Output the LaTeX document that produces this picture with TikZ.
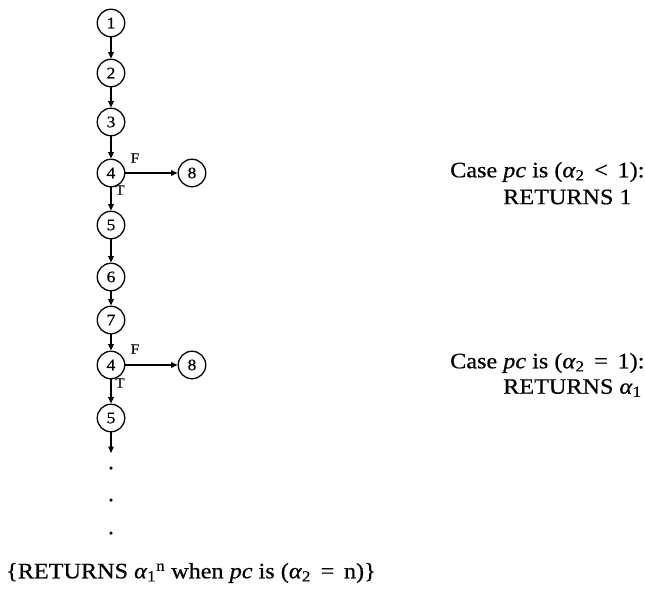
\documentclass[tikz,border=0pt]{standalone}
\usepackage{fontspec}
\setmainfont{Liberation Serif}[FakeStretch=1.1,FakeBold=0.6]
\usetikzlibrary{arrows.meta}
\newcommand{\al}[1]{\textit{α}\textsubscript{#1}}
\begin{document}
\begin{tikzpicture}[x=1pt,y=-1pt,
  st/.style={circle,draw,line width=1.3pt,minimum size=27.5pt,inner sep=0pt,font=\fontsize{16}{16}\selectfont},
  flow/.style={line width=1.3pt,-{Triangle[length=6.5pt,width=5.5pt]}},
  lab/.style={font=\fontsize{14}{14}\selectfont,inner sep=0pt},
  txt/.style={font=\fontsize{22}{26}\selectfont,inner sep=0pt,anchor=west},
  dotn/.style={circle,fill,inner sep=0pt,minimum size=3.5pt}]
\useasboundingbox (0,0) rectangle (645,589);
\node[st] (n1) at (111,23) {1};
\node[st] (n2) at (111,73) {2};
\node[st] (n3) at (111,122) {3};
\node[st] (n4) at (111,173) {4};
\node[st] (n8) at (192,173) {8};
\node[st] (n5) at (111,225) {5};
\node[st] (n6) at (111,277) {6};
\node[st] (n7) at (111,320) {7};
\node[st] (m4) at (111,365) {4};
\node[st] (m8) at (192,365) {8};
\node[st] (m5) at (111,418) {5};
\coordinate (tip) at (111,453);
\node[dotn] (d1) at (111,468) {};
\node[dotn] (d2) at (111,500) {};
\node[dotn] (d3) at (111,533) {};
\draw[flow] (n1) -- (n2);
\draw[flow] (n2) -- (n3);
\draw[flow] (n3) -- (n4);
\draw[flow] (n4) -- (n8);
\draw[flow] (n4) -- (n5);
\draw[flow] (n5) -- (n6);
\draw[flow] (n6) -- (n7);
\draw[flow] (n7) -- (m4);
\draw[flow] (m4) -- (m8);
\draw[flow] (m4) -- (m5);
\draw[flow] (m5) -- (tip);
\node[lab] (f1) at (135,158) {F};
\node[lab] (t1) at (120,190) {T};
\node[lab] (f2) at (135,349) {F};
\node[lab] (t2) at (120,383) {T};
\node[txt] (c1a) at (450,172) {Case \textit{pc} is (\al{2} \,<\, 1):};
\node[txt] (c1b) at (503,197) {RETURNS 1};
\node[txt] (c2a) at (450,363) {Case \textit{pc} is (\al{2} \,=\, 1):};
\node[txt] (c2b) at (503,388) {RETURNS \al{1}};
\node[txt,anchor=center] (bot) at (191,573) {\{RETURNS \al{1}\textsuperscript{n} when \textit{pc} is (\al{2} \,=\, n)\}};
\end{tikzpicture}
\end{document}
